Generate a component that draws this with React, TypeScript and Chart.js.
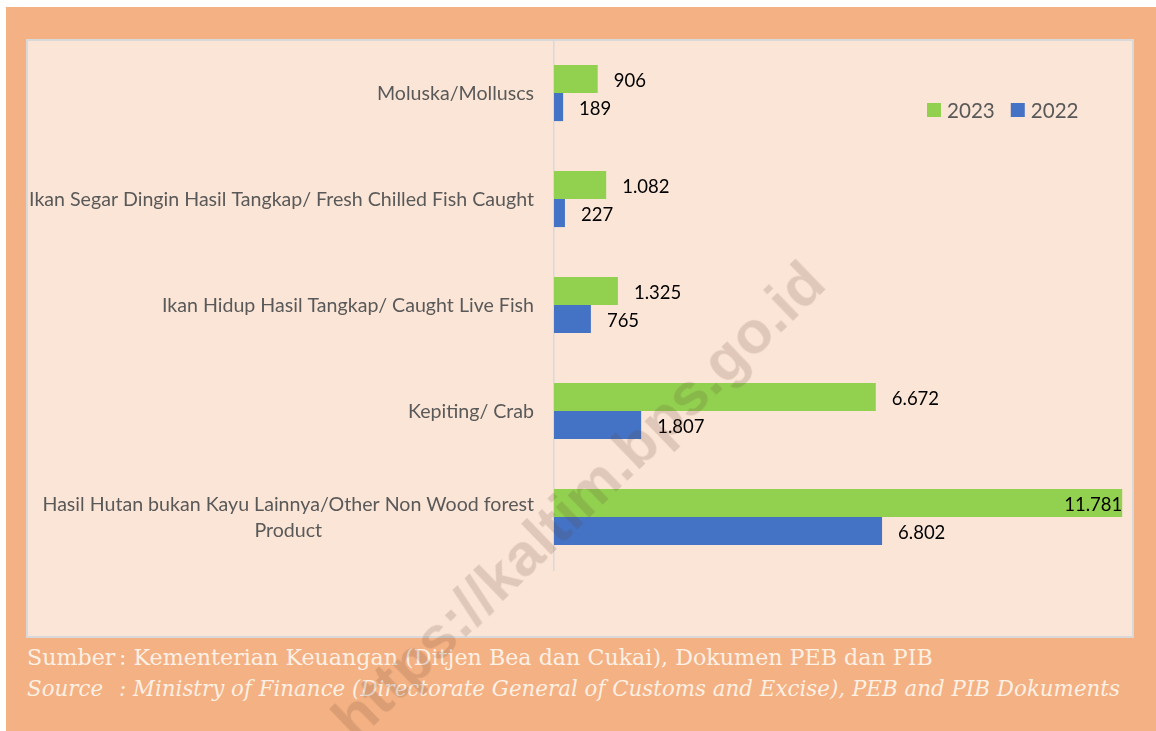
import React, { useEffect, useRef } from "react";
import { Chart, registerables } from "chart.js";

Chart.register(...registerables);

const categories: (string | string[])[] = [
  "Moluska/Molluscs",
  "Ikan Segar Dingin Hasil Tangkap/ Fresh Chilled Fish Caught",
  "Ikan Hidup Hasil Tangkap/ Caught Live Fish",
  "Kepiting/ Crab",
  ["Hasil Hutan bukan Kayu Lainnya/Other Non Wood forest", "Product"],
];
const values2023 = [906, 1082, 1325, 6672, 11781];
const values2022 = [189, 227, 765, 1807, 6802];
const seriesLabels = ["2023", "2022"];
const seriesColors = ["#92D050", "#4472C4"];
const sourceLine1 = "Kementerian Keuangan (Ditjen Bea dan Cukai), Dokumen PEB dan PIB";
const sourceLine2 = "Ministry of Finance (Directorate General of Customs and Excise), PEB and PIB Dokuments";

const fmt = (v: number) => String(Math.round(v)).replace(/\B(?=(\d{3})+(?!\d))/g, ".");

const LABEL_FONT = "19.6px Lato";
const VALUE_FONT = "18.5px Lato";
const LEGEND_FONT = "20.6px Lato";

const decorPlugin = {
  id: "decor",
  afterDatasetsDraw(chart: any) {
    const ctx = chart.ctx;
    const area = chart.chartArea;
    const yScale = chart.scales.y;
    ctx.save();
    // category labels
    ctx.font = LABEL_FONT;
    ctx.fillStyle = "#595959";
    ctx.textBaseline = "middle";
    const rightX = area.left - 20;
    (chart.data.labels as any[]).forEach((lab, i) => {
      const yc = yScale.getPixelForValue(i) + 1;
      const lines = Array.isArray(lab) ? lab : [lab];
      const lh = 26;
      const maxW = Math.max(...lines.map((l: string) => ctx.measureText(l).width));
      lines.forEach((l: string, k: number) => {
        const y = yc - ((lines.length - 1) * lh) / 2 + k * lh;
        ctx.textAlign = "center";
        ctx.fillText(l, rightX - maxW / 2, y);
      });
    });
    // value labels
    ctx.font = VALUE_FONT;
    ctx.fillStyle = "#000000";
    chart.data.datasets.forEach((ds: any, di: number) => {
      const meta = chart.getDatasetMeta(di);
      meta.data.forEach((bar: any, i: number) => {
        const txt = fmt(ds.data[i]);
        const w = ctx.measureText(txt).width;
        const ty = bar.y + 2;
        if (bar.x + 16 + w > area.right + 4) {
          ctx.textAlign = "right";
          ctx.fillText(txt, bar.x, ty);
        } else {
          ctx.textAlign = "left";
          ctx.fillText(txt, bar.x + 16, ty);
        }
      });
    });
    // legend
    ctx.font = LEGEND_FONT;
    ctx.textAlign = "left";
    let lx = 901;
    const ly = 71;
    chart.data.datasets.forEach((ds: any) => {
      ctx.fillStyle = ds.backgroundColor;
      ctx.fillRect(lx, ly - 7, 14, 14);
      ctx.fillStyle = "#595959";
      ctx.fillText(ds.label, lx + 20, ly + 1);
      lx += 20 + ctx.measureText(ds.label).width + 16;
    });
    ctx.restore();
  },
};

export default function App() {
  const canvasRef = useRef<HTMLCanvasElement | null>(null);

  useEffect(() => {
    if (!canvasRef.current) return;
    const chart = new Chart(canvasRef.current, {
      type: "bar",
      data: {
        labels: categories as any,
        datasets: [
          {
            label: seriesLabels[0],
            data: values2023,
            backgroundColor: seriesColors[0],
            categoryPercentage: 0.53,
            barPercentage: 1,
          },
          {
            label: seriesLabels[1],
            data: values2022,
            backgroundColor: seriesColors[1],
            categoryPercentage: 0.53,
            barPercentage: 1,
          },
        ],
      },
      options: {
        indexAxis: "y",
        animation: false,
        responsive: false,
        maintainAspectRatio: false,
        layout: { padding: { top: 1, bottom: 68, right: 8, left: 0 } },
        plugins: { legend: { display: false }, tooltip: { enabled: false } },
        scales: {
          x: { display: false, min: 0, max: 11860 },
          y: {
            grid: { display: false },
            border: { display: true, color: "#D9D9D9", width: 1.5 },
            ticks: { display: false },
            afterFit: (scale: any) => {
              scale.width = 528;
            },
          },
        },
      },
      plugins: [decorPlugin],
    });
    return () => chart.destroy();
  }, []);

  return (
    <div style={{ position: "absolute", left: 0, top: 0, width: 1156, height: 731, background: "#ffffff", overflow: "hidden" }}>
      <div style={{ position: "absolute", left: 6, top: 7, width: 1150, height: 724, background: "#F4B183" }} />
      <div
        style={{
          position: "absolute",
          left: 26,
          top: 39,
          width: 1108,
          height: 599,
          background: "#FBE5D6",
          border: "2px solid #D9D9D9",
          boxSizing: "border-box",
        }}
      />
      <canvas
        ref={canvasRef}
        width={1108}
        height={599}
        style={{ position: "absolute", left: 26, top: 39, width: 1108, height: 599 }}
      />
      <div
        style={{
          position: "absolute",
          left: 27,
          top: 641,
          fontFamily: "'DejaVu Serif', serif",
          lineHeight: "32px",
          color: "#FDF0E4",
          whiteSpace: "nowrap",
        }}
      >
        <div style={{ fontSize: 22.2 }}>
          <span style={{ display: "inline-block", width: 92 }}>Sumber</span>: {sourceLine1}
        </div>
        <div style={{ fontStyle: "italic", fontSize: 21.4 }}>
          <span style={{ display: "inline-block", width: 92 }}>Source</span>: {sourceLine2}
        </div>
      </div>
      <div
        style={{
          position: "absolute",
          left: 578,
          top: 500,
          transform: "translate(-50%, -50%) rotate(-44deg)",
          fontFamily: "'Liberation Sans', Arial, sans-serif",
          fontWeight: "bold",
          fontSize: 60,
          color: "rgba(90, 60, 40, 0.17)",
          whiteSpace: "nowrap",
          pointerEvents: "none",
        }}
      >
        https://kaltim.bps.go.id
      </div>
    </div>
  );
}
